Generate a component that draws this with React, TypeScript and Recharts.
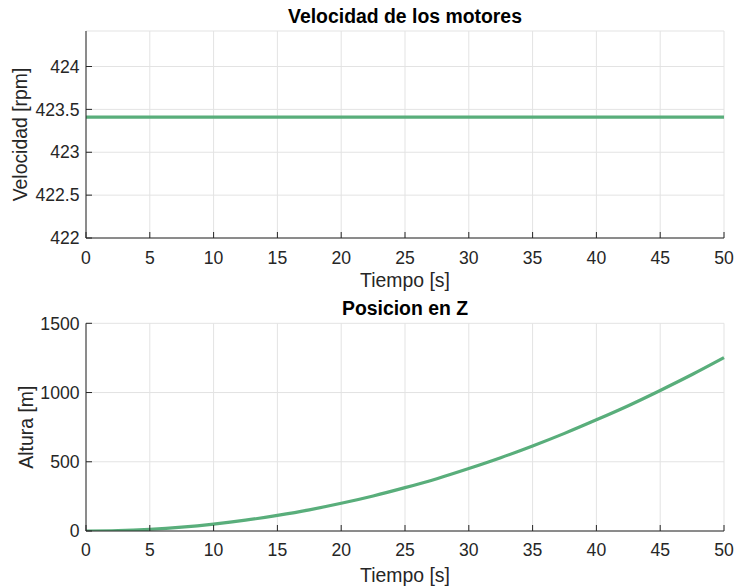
import React from 'react';
import { LineChart, Line, XAxis, YAxis, CartesianGrid } from 'recharts';

const tiempo = [0, 2.5, 5, 7.5, 10, 12.5, 15, 17.5, 20, 22.5, 25, 27.5, 30, 32.5, 35, 37.5, 40, 42.5, 45, 47.5, 50];
const velocidad = [423.41, 423.41, 423.41, 423.41, 423.41, 423.41, 423.41, 423.41, 423.41, 423.41, 423.41, 423.41, 423.41, 423.41, 423.41, 423.41, 423.41, 423.41, 423.41, 423.41, 423.41];
const altura = [0, 3, 12.5, 28, 50, 78, 113, 153, 200, 253, 313, 378, 451, 529, 614, 705, 803, 905, 1015, 1130, 1252];

const xTicks = [0, 5, 10, 15, 20, 25, 30, 35, 40, 45, 50];
const velTicks = [422, 422.5, 423, 423.5, 424];
const altTicks = [0, 500, 1000, 1500];

const velData = tiempo.map((t, i) => ({ t, v: velocidad[i] }));
const altData = tiempo.map((t, i) => ({ t, z: altura[i] }));

const AXIS = '#262626';
const GRID = '#e3e3e3';
const LINE = '#59ae7b';
const FONT = '"Liberation Sans", Arial, Helvetica, sans-serif';
const tickStyle = { fill: AXIS, fontSize: 17.6, fontFamily: FONT };
const labelStyle = { fill: AXIS, fontSize: 19.4, fontFamily: FONT, textAnchor: 'middle' as const };

type PanelProps = {
  data: any[];
  dataKey: string;
  height: number;
  top: number;
  xHeight: number;
  yDomain: [number, number];
  yTicks: number[];
  ylabel: string;
  ylabelOffset: number;
  xlabelOffset: number;
  xTickMargin: number;
};

function Panel(p: PanelProps) {
  return (
    <LineChart
      width={734}
      height={p.height}
      data={p.data}
      margin={{ top: p.top, right: 10, bottom: 0, left: 0 }}
    >
      <CartesianGrid xAxisId="b" yAxisId="l" stroke={GRID} strokeWidth={1} />
      <XAxis
        xAxisId="b"
        dataKey="t"
        type="number"
        domain={[0, 50]}
        ticks={xTicks}
        height={p.xHeight}
        tickSize={-6}
        tickMargin={p.xTickMargin}
        axisLine={{ stroke: AXIS }}
        tickLine={{ stroke: AXIS }}
        tick={tickStyle}
        interval={0}
        label={{ value: 'Tiempo [s]', position: 'insideBottom', offset: p.xlabelOffset, style: labelStyle }}
      />
      <XAxis
        xAxisId="t"
        orientation="top"
        dataKey="t"
        type="number"
        domain={[0, 50]}
        ticks={xTicks}
        height={0}
        tickSize={-6}
        axisLine={{ stroke: AXIS }}
        tickLine={{ stroke: AXIS }}
        tick={false}
        interval={0}
      />
      <YAxis
        yAxisId="l"
        type="number"
        domain={p.yDomain}
        ticks={p.yTicks}
        allowDataOverflow
        width={86}
        tickSize={-6}
        tickMargin={12.5}
        axisLine={{ stroke: AXIS }}
        tickLine={{ stroke: AXIS }}
        tick={tickStyle}
        interval={0}
        label={{ value: p.ylabel, angle: -90, position: 'insideLeft', offset: p.ylabelOffset, style: labelStyle }}
      />
      <YAxis
        yAxisId="r"
        orientation="right"
        type="number"
        domain={p.yDomain}
        ticks={p.yTicks}
        allowDataOverflow
        width={0}
        tickSize={-6}
        axisLine={{ stroke: AXIS }}
        tickLine={{ stroke: AXIS }}
        tick={false}
        interval={0}
      />
      <Line
        xAxisId="b"
        yAxisId="l"
        type="monotone"
        dataKey={p.dataKey}
        stroke={LINE}
        strokeWidth={3.2}
        dot={false}
        activeDot={false}
        isAnimationActive={false}
      />
    </LineChart>
  );
}

export default function App() {
  return (
    <div
      style={{
        position: 'absolute',
        left: 0,
        top: 0,
        width: 734,
        height: 587,
        background: '#fff',
        fontFamily: FONT,
      }}
    >
      <Panel
        data={velData}
        dataKey="v"
        height={293}
        top={31}
        xHeight={55}
        yDomain={[422, 424.414]}
        yTicks={velTicks}
        ylabel="Velocidad [rpm]"
        ylabelOffset={20.3}
        xlabelOffset={6.3}
        xTickMargin={19.5}
      />
      <Panel
        data={altData}
        dataKey="z"
        height={294}
        top={30.3}
        xHeight={56}
        yDomain={[0, 1500]}
        yTicks={altTicks}
        ylabel="Altura [m]"
        ylabelOffset={25.8}
        xlabelOffset={5.3}
        xTickMargin={18.3}
      />
      <svg
        width={734}
        height={587}
        style={{ position: 'absolute', left: 0, top: 0, pointerEvents: 'none' }}
      >
        <text x={405} y={23.3} textAnchor="middle" fontFamily={FONT} fontSize={19.4} fontWeight="bold" fill="#000">
          Velocidad de los motores
        </text>
        <text x={405} y={315} textAnchor="middle" fontFamily={FONT} fontSize={19.4} fontWeight="bold" fill="#000">
          Posicion en Z
        </text>
      </svg>
    </div>
  );
}
